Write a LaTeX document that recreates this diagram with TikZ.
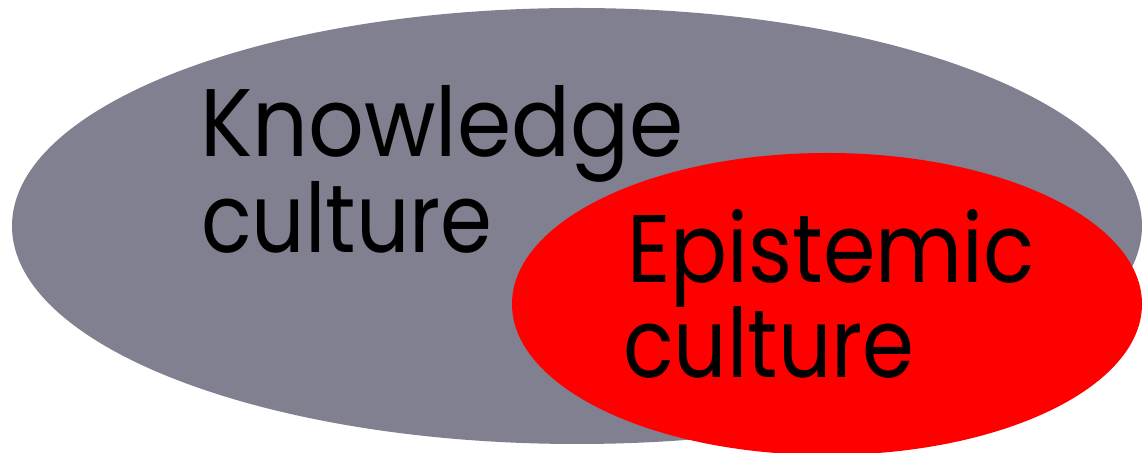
\documentclass[tikz,border=0pt]{standalone}
\usepackage{fontspec}
\setmainfont{Poppins}
\usetikzlibrary{shapes.geometric}
\definecolor{kgrey}{RGB}{128,128,145}
\definecolor{ered}{RGB}{255,0,0}
\tikzset{
  blob/.style={ellipse, inner sep=0pt, draw=none},
  lbl/.style={anchor=base west, inner sep=0pt, text=black,
    font=\fontsize{96}{96}\selectfont, transform shape}
}
\begin{document}
\begin{tikzpicture}[x=1pt,y=1pt]
\useasboundingbox (0,0) rectangle (1142,452);
\node[blob, fill=kgrey, minimum width=1130pt, minimum height=436pt] (kc) at (577,226) {};
\node[blob, fill=ered, minimum width=630pt, minimum height=302pt] (ec) at (827,148) {};
\node[lbl, xscale=0.91] (k1) at (200,295) {Knowledge};
\node[lbl, xscale=0.87] (k2) at (201,199) {culture};
\node[lbl, xscale=0.88] (e1) at (627,169) {Epistemic};
\node[lbl, xscale=0.87] (e2) at (623,74) {culture};
\end{tikzpicture}
\end{document}
